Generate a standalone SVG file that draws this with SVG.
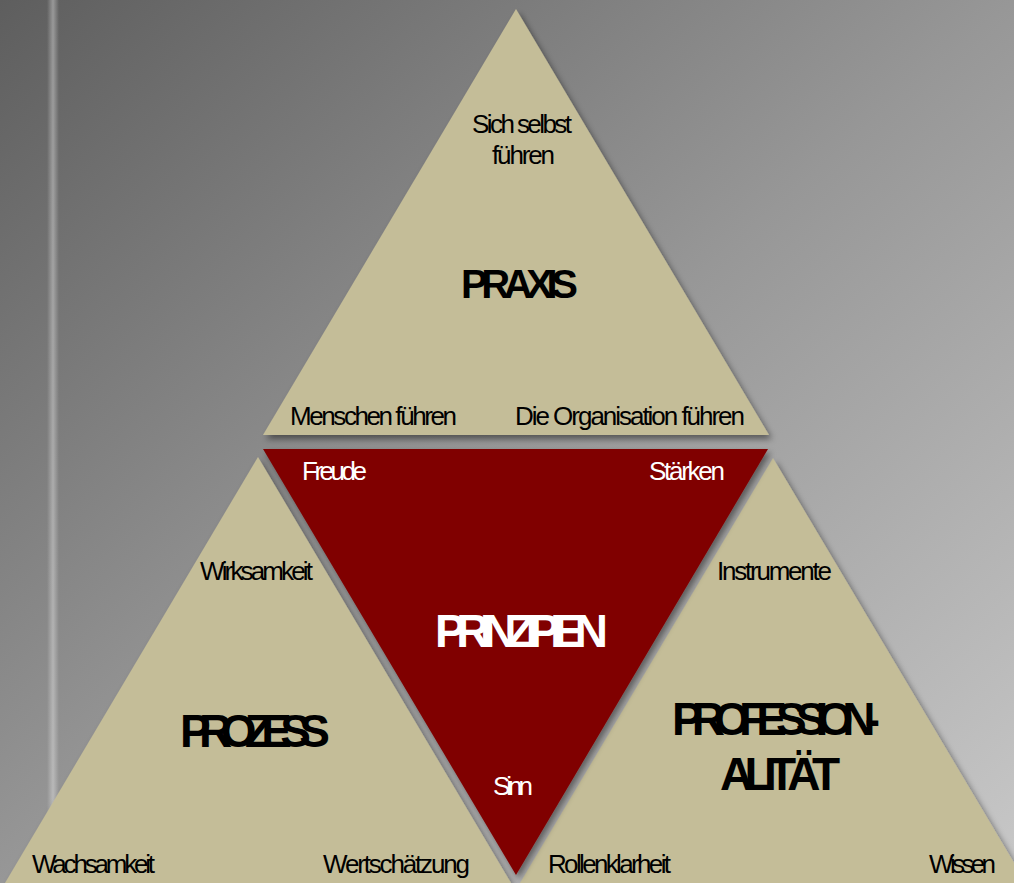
<svg xmlns="http://www.w3.org/2000/svg" width="1014" height="883" viewBox="0 0 1014 883">
  <defs>
    <linearGradient id="bg" x1="0" y1="0" x2="1" y2="1">
      <stop offset="0" stop-color="#5e5e5e"/>
      <stop offset="0.5" stop-color="#979797"/>
      <stop offset="1" stop-color="#c8c8c8"/>
    </linearGradient>
    <linearGradient id="stripe" x1="0" y1="0" x2="1" y2="0">
      <stop offset="0" stop-color="#ffffff" stop-opacity="0"/>
      <stop offset="0.5" stop-color="#ffffff" stop-opacity="0.35"/>
      <stop offset="1" stop-color="#ffffff" stop-opacity="0"/>
    </linearGradient>
    <filter id="shadow" x="-10%" y="-10%" width="130%" height="130%">
      <feDropShadow dx="3" dy="4" stdDeviation="3" flood-color="#000" flood-opacity="0.45"/>
    </filter>
    <style>
      .tan { fill: #c4bd98; filter: url(#shadow); }
      .red { fill: #800000; filter: url(#shadow); }
      .lbl { font-family: "Liberation Sans", Arial, sans-serif; font-size: 26px; }
      .ttl { font-family: "Liberation Sans", Arial, sans-serif; font-weight: bold; font-size: 46px; }
      .dk { fill: #000; }
      .wt { fill: #fff; }
    </style>
  </defs>

  <rect x="0" y="0" width="1014" height="883" fill="url(#bg)"/>
  <rect x="47" y="0" width="12" height="883" fill="url(#stripe)"/>

  <g id="prozess">
    <polygon class="tan" points="258,457 5,883 511,883"/>
    <text class="lbl dk" x="200" y="580" textLength="113" lengthAdjust="spacing">Wirksamkeit</text>
    <text class="ttl dk" x="180" y="747" textLength="150" lengthAdjust="spacing">PROZESS</text>
    <text class="lbl dk" x="32" y="873" textLength="123" lengthAdjust="spacing">Wachsamkeit</text>
    <text class="lbl dk" x="323" y="873" textLength="147" lengthAdjust="spacing">Wertschätzung</text>
  </g>

  <g id="professionalitaet">
    <polygon class="tan" points="773,458 520,883 1026,883"/>
    <text class="lbl dk" x="717" y="580" textLength="115" lengthAdjust="spacing">Instrumente</text>
    <text class="ttl dk" x="672" y="735" textLength="208" lengthAdjust="spacing">PROFESSION-</text>
    <text class="ttl dk" x="720" y="790" textLength="120" lengthAdjust="spacing">ALITÄT</text>
    <text class="lbl dk" x="548" y="873" textLength="123" lengthAdjust="spacing">Rollenklarheit</text>
    <text class="lbl dk" x="929" y="873" textLength="67" lengthAdjust="spacing">Wissen</text>
  </g>

  <g id="prinzipien">
    <polygon class="red" points="263,449 768,449 516,875"/>
    <text class="lbl wt" x="302" y="480" textLength="65" lengthAdjust="spacing">Freude</text>
    <text class="lbl wt" x="649" y="480" textLength="76" lengthAdjust="spacing">Stärken</text>
    <text class="ttl wt" x="435" y="647" textLength="173" lengthAdjust="spacing">PRINZIPIEN</text>
    <text class="lbl wt" x="493" y="795" textLength="40" lengthAdjust="spacing">Sinn</text>
  </g>

  <g id="praxis">
    <polygon class="tan" points="516,9 263,435 769,435"/>
    <text class="lbl dk" x="472" y="133" textLength="100" lengthAdjust="spacing">Sich selbst</text>
    <text class="lbl dk" x="492" y="164" textLength="63" lengthAdjust="spacing">führen</text>
    <text class="ttl dk" x="461" y="298" textLength="117" lengthAdjust="spacing" style="font-size:40px">PRAXIS</text>
    <text class="lbl dk" x="290" y="425" textLength="167" lengthAdjust="spacing">Menschen führen</text>
    <text class="lbl dk" x="515" y="425" textLength="230" lengthAdjust="spacing">Die Organisation führen</text>
  </g>

  <g id="connectors"/>
</svg>
